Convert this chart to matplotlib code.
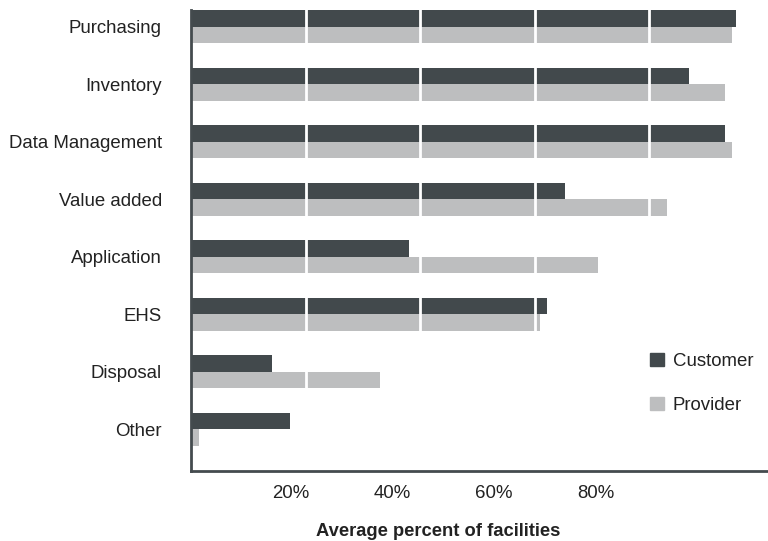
import numpy as np
import matplotlib
matplotlib.use('Agg')
from matplotlib import pyplot as plt
from matplotlib.patches import Patch
from matplotlib.transforms import ScaledTranslation

categories = ['Purchasing', 'Inventory', 'Data Management', 'Value added',
              'Application', 'EHS', 'Disposal', 'Other']
customer = [95.2, 87.0, 93.3, 65.3, 38.1, 62.2, 14.1, 17.3]
provider = [94.5, 93.3, 94.5, 83.1, 71.1, 61.0, 33.0, 1.4]
tick_values = [20, 40, 60, 80]
tick_labels = ['20%', '40%', '60%', '80%']

dark = '#42494c'
light = '#bdbebf'
text_col = '#222222'

plt.rcParams['font.family'] = ['Liberation Sans', 'DejaVu Sans']
plt.rcParams['font.size'] = 13.4

fig = plt.figure(figsize=(7.68, 5.41), dpi=100)
W, H = 768.0, 541.0
left, top, bottom = 191, 10, 471
ax = fig.add_axes([left / W, 1 - bottom / H, 1 - left / W, (bottom - top) / H])

y = np.arange(len(categories))
h = 0.287
ax.barh(y - h / 2, customer, height=h, color=dark, zorder=2)
ax.barh(y + h / 2, provider, height=h, color=light, zorder=2)

# white grid lines cut through the bars
for v in tick_values:
    ax.axvline(v, color='white', lw=2, zorder=3)

ax.set_xlim(0, (W - left) / 5.725)
ax.set_ylim(7.73, -0.287)
ax.set_yticks(y)
ax.set_yticklabels(categories, color=text_col)
ax.set_xticks(tick_values)
ax.set_xticklabels(tick_labels, color=text_col)
ax.tick_params(length=0)
ax.tick_params(axis='y', pad=21)
ax.tick_params(axis='x', pad=10)

# percent labels sit a little left of their grid lines
for i, lab in enumerate(ax.get_xticklabels()):
    dx = -(15 + 12.7 * i) / 100.0
    lab.set_transform(lab.get_transform() + ScaledTranslation(dx, 0, fig.dpi_scale_trans))

for s in ['top', 'right']:
    ax.spines[s].set_visible(False)
for s in ['left', 'bottom']:
    ax.spines[s].set_color('#444b4e')
    ax.spines[s].set_linewidth(2)
    ax.spines[s].set_zorder(4)

fig.text(438 / W, 1 - 531 / H, 'Average percent of facilities', ha='center',
         va='center', fontweight='bold', color=text_col, fontsize=13.2)

handles = [Patch(color=dark), Patch(color=light)]
ax.legend(handles, ['Customer', 'Provider'], frameon=False,
          loc='upper left', bbox_to_anchor=(650 / W, 1 - 353 / H),
          bbox_transform=fig.transFigure, borderpad=0, borderaxespad=0,
          handlelength=0.75, handleheight=0.7, handletextpad=0.48,
          labelspacing=1.45, labelcolor=text_col)

fig.savefig('out.png', dpi=100)
